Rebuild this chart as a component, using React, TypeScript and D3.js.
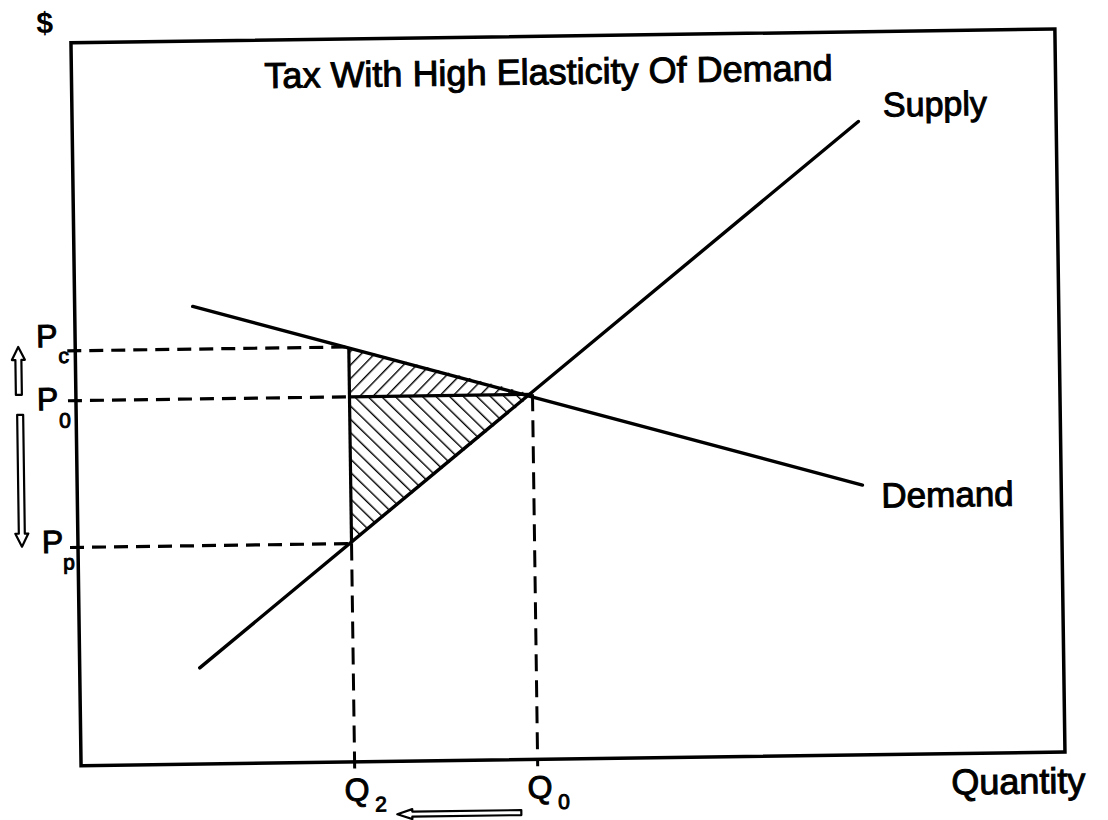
import React from "react";
import * as d3 from "d3";

// ---- data (economic units, 0..100 on both axes) ----
const supplyQ = [12.2, 79.9];
const supplyP = [13.3, 87.6];
const demandQ = [12.0, 79.8];
const demandP = [63.3, 37.3];

const priceLevels = [
  { sub: "c", value: 57.4, pOff: -4, sOff: 12, px: 37, sx: 59 },
  { sub: "0", value: 50.5, pOff: 9, sOff: 27, px: 37, sx: 59 },
  { sub: "p", value: 30.2, pOff: 5, sOff: 22, px: 40, sx: 61 },
];
const quantityLevels = [
  { sub: "2", value: 27.8 },
  { sub: "0", value: 46.4 },
];
const titleText = "Tax With High Elasticity Of Demand";
const curveLabels = ["Supply", "Demand"];
const axisLabels = ["$", "Quantity"];

const W = 1108;
const H = 820;
const frame = { left: 76, right: 1060, top: 36, bottom: 759 };
const FONT = "'Liberation Sans', Arial, Helvetica, sans-serif";

function upArrow(cx: number, tipY: number, tailY: number, headW = 13, headL = 13, shaftW = 6) {
  const h = headW / 2, s = shaftW / 2;
  return `M${cx},${tipY} L${cx + h},${tipY + headL} L${cx + s},${tipY + headL} L${cx + s},${tailY} L${cx - s},${tailY} L${cx - s},${tipY + headL} L${cx - h},${tipY + headL} Z`;
}
function downArrow(cx: number, tailY: number, tipY: number, headW = 13, headL = 13, shaftW = 6) {
  const h = headW / 2, s = shaftW / 2;
  return `M${cx},${tipY} L${cx + h},${tipY - headL} L${cx + s},${tipY - headL} L${cx + s},${tailY} L${cx - s},${tailY} L${cx - s},${tipY - headL} L${cx - h},${tipY - headL} Z`;
}
function leftArrow(tipX: number, tailX: number, cy: number, headH = 10, headL = 15, shaftH = 5) {
  const h = headH / 2, s = shaftH / 2;
  return `M${tipX},${cy} L${tipX + headL},${cy - h} L${tipX + headL},${cy - s} L${tailX},${cy - s} L${tailX},${cy + s} L${tipX + headL},${cy + s} L${tipX + headL},${cy + h} Z`;
}

export default function App() {
  const x = d3.scaleLinear().domain([0, 100]).range([frame.left, frame.right]);
  const y = d3.scaleLinear().domain([0, 100]).range([frame.bottom, frame.top]);
  const line = d3
    .line<[number, number]>()
    .x((d) => x(d[0]))
    .y((d) => y(d[1]));

  const supply: [number, number][] = supplyQ.map((q, i) => [q, supplyP[i]]);
  const demand: [number, number][] = demandQ.map((q, i) => [q, demandP[i]]);

  const [Pc, P0, Pp] = priceLevels.map((d) => d.value);
  const [Q2, Q0] = quantityLevels.map((d) => d.value);

  const upperTri: [number, number][] = [[Q2, Pc], [Q2, P0], [Q0, P0]];
  const lowerTri: [number, number][] = [[Q2, P0], [Q0, P0], [Q2, Pp]];

  const stroke = "#000";
  const dashH = "14 8";
  const dashV = "17 9";
  const textStroke = { stroke: "#000", strokeWidth: 1 };

  return (
    <svg
      width={W}
      height={H}
      style={{ position: "absolute", left: 0, top: 0, background: "#fff" }}
      fontFamily={FONT}
    >
      <defs>
        <pattern id="hatchUp" width={9.5} height={9.5} patternUnits="userSpaceOnUse" patternTransform="rotate(45)">
          <line x1={0} y1={-1} x2={0} y2={10.5} stroke={stroke} strokeWidth={2.8} />
        </pattern>
        <pattern id="hatchDown" width={9.5} height={9.5} patternUnits="userSpaceOnUse" patternTransform="rotate(-45)">
          <line x1={0} y1={-1} x2={0} y2={10.5} stroke={stroke} strokeWidth={2.8} />
        </pattern>
      </defs>
      <rect x={0} y={0} width={W} height={H} fill="#fff" />
      <g transform="rotate(-0.8 560 400)">
        {/* frame */}
        <rect
          x={frame.left}
          y={frame.top}
          width={frame.right - frame.left}
          height={frame.bottom - frame.top}
          fill="none"
          stroke={stroke}
          strokeWidth={3.5}
        />

        {/* hatched triangles */}
        <path d={line(upperTri) + "Z"} fill="url(#hatchUp)" stroke="none" />
        <path d={line(lowerTri) + "Z"} fill="url(#hatchDown)" stroke="none" />

        {/* horizontal dashed price lines */}
        {priceLevels.map((p) => (
          <line
            key={"h" + p.sub}
            x1={frame.left - 8}
            x2={x(Q2)}
            y1={y(p.value)}
            y2={y(p.value)}
            stroke={stroke}
            strokeWidth={3.2}
            strokeDasharray={dashH}
          />
        ))}
        {/* solid P0 segment within triangle */}
        <line x1={x(Q2)} x2={x(Q0)} y1={y(P0)} y2={y(P0)} stroke={stroke} strokeWidth={3.2} />
        {/* solid vertical at Q2 from Pc to Pp */}
        <line x1={x(Q2)} x2={x(Q2)} y1={y(Pc)} y2={y(Pp)} stroke={stroke} strokeWidth={3.2} />
        {/* vertical dashed quantity lines */}
        <line x1={x(Q2)} x2={x(Q2)} y1={y(Pp)} y2={frame.bottom + 7} stroke={stroke} strokeWidth={3} strokeDasharray={dashV} />
        <line x1={x(Q0)} x2={x(Q0)} y1={y(P0)} y2={frame.bottom + 7} stroke={stroke} strokeWidth={3} strokeDasharray={dashV} />

        {/* supply & demand */}
        <path d={line(supply) || ""} fill="none" stroke={stroke} strokeWidth={3.4} strokeLinecap="round" />
        <path d={line(demand) || ""} fill="none" stroke={stroke} strokeWidth={3.4} strokeLinecap="round" />

        {/* title */}
        <text x={269} y={84} fontSize={36} {...textStroke}>
          {titleText}
        </text>

        {/* curve labels */}
        <text x={887} y={121} fontSize={34} {...textStroke}>
          {curveLabels[0]}
        </text>
        <text x={880} y={512} fontSize={35} {...textStroke}>
          {curveLabels[1]}
        </text>

        {/* axis labels */}
        <text x={50} y={26} fontSize={30} fontWeight="bold" textAnchor="middle">
          {axisLabels[0]}
        </text>
        <text x={946} y={frame.bottom + 41} fontSize={36} {...textStroke}>
          {axisLabels[1]}
        </text>

        {/* price labels */}
        {priceLevels.map((p) => (
          <g key={"pl" + p.sub}>
            <text x={p.px} y={y(p.value) + p.pOff} fontSize={32} {...textStroke}>
              P
            </text>
            <text x={p.sx} y={y(p.value) + p.sOff} fontSize={21} {...textStroke}>
              {p.sub}
            </text>
          </g>
        ))}

        {/* quantity labels */}
        {quantityLevels.map((q) => (
          <g key={"ql" + q.sub}>
            <text x={x(q.value) + 2} y={frame.bottom + 39} fontSize={32} textAnchor="middle" {...textStroke}>
              Q
            </text>
            <text x={x(q.value) + 20} y={frame.bottom + 50} fontSize={21} {...textStroke}>
              {q.sub}
            </text>
          </g>
        ))}

        {/* hollow arrows */}
        <path d={upArrow(19, y(Pc) - 4.6, y(P0) - 6.6)} fill="#fff" stroke={stroke} strokeWidth={2.2} strokeLinejoin="round" />
        <path d={downArrow(20, y(P0) + 13.5, y(Pp) - 1.5)} fill="#fff" stroke={stroke} strokeWidth={2.2} strokeLinejoin="round" />
        <path d={leftArrow(x(Q2) + 42, x(Q0) - 17, frame.bottom + 53)} fill="#fff" stroke={stroke} strokeWidth={2.2} strokeLinejoin="round" />
      </g>
    </svg>
  );
}
